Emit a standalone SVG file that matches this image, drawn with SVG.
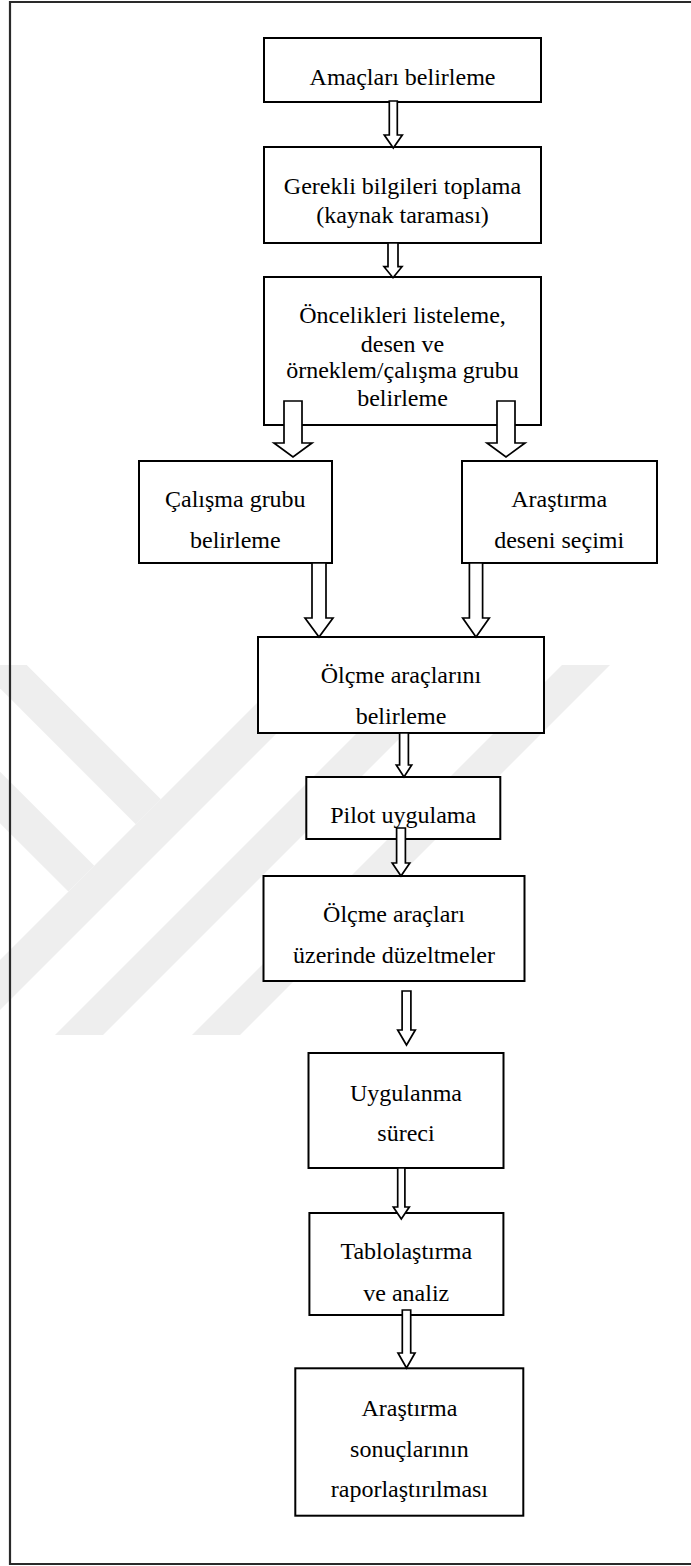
<svg xmlns="http://www.w3.org/2000/svg" width="691" height="1566" viewBox="0 0 691 1566">
<style>
.wm{fill:#eeeeee;stroke:none}
.frame{fill:none;stroke:#2a2a2a;stroke-width:2.2}
.box{fill:#ffffff;stroke:#000000;stroke-width:2}
.arr{fill:#ffffff;stroke:#000000;stroke-width:1.7;stroke-linejoin:miter}
text{font-family:"Liberation Serif","Times New Roman",serif;font-size:24px;fill:#000000;text-anchor:middle}
</style>
<rect x="0" y="0" width="691" height="1566" fill="#ffffff"/>
<g id="watermark">
<polygon class="wm" points="0,665 26.7,665 160.8,799.2 135.8,824.2 0,688.3"/>
<polygon class="wm" points="295,665 345,665 0,1010 0,960"/>
<polygon class="wm" points="0,771.7 94.2,865.8 68.4,891.6 0,823.3"/>
<polygon class="wm" points="425,665 473,665 103,1035 55,1035"/>
<polygon class="wm" points="562,665 610,665 240,1035 192,1035"/>
</g>
<path class="frame" d="M693,2 H10 V1564 H693"/>
<g id="n1"><rect class="box" x="264" y="38" width="277" height="64"/><text x="402.5" y="85">Amaçları belirleme</text></g>
<g id="n2"><rect class="box" x="264" y="147" width="277" height="96"/><text x="402.5" y="194">Gerekli bilgileri toplama</text><text x="402.5" y="222.7">(kaynak taraması)</text></g>
<g id="n3"><rect class="box" x="264" y="277" width="277" height="148"/><text x="402.5" y="323.3">Öncelikleri listeleme,</text><text x="402.5" y="351.7">desen ve</text><text x="402.5" y="378.3">örneklem/çalışma grubu</text><text x="402.5" y="406">belirleme</text></g>
<g id="n4"><rect class="box" x="139" y="461" width="193" height="102"/><text x="235.3" y="507.3">Çalışma grubu</text><text x="235.3" y="548.3">belirleme</text></g>
<g id="n5"><rect class="box" x="462" y="461" width="195" height="102"/><text x="559.2" y="507.3">Araştırma</text><text x="559.2" y="548.3">deseni seçimi</text></g>
<g id="n6"><rect class="box" x="258" y="637" width="286" height="96"/><text x="401" y="682.7">Ölçme araçlarını</text><text x="401" y="724">belirleme</text></g>
<g id="n7"><rect class="box" x="306.3" y="777" width="194" height="62"/><text x="403.2" y="822.7">Pilot uygulama</text></g>
<g id="n8"><rect class="box" x="263.5" y="876" width="261" height="105"/><text x="394" y="921.7">Ölçme araçları</text><text x="394" y="963.3">üzerinde düzeltmeler</text></g>
<g id="n9"><rect class="box" x="308.5" y="1053" width="195" height="115"/><text x="406" y="1100.7">Uygulanma</text><text x="406" y="1141">süreci</text></g>
<g id="n10"><rect class="box" x="309.4" y="1213" width="194" height="102"/><text x="406.3" y="1259.3">Tablolaştırma</text><text x="406.3" y="1300.7">ve analiz</text></g>
<g id="n11"><rect class="box" x="295.3" y="1368.3" width="228" height="147.4"/><text x="409.4" y="1416">Araştırma</text><text x="409.4" y="1456.7">sonuçlarının</text><text x="409.4" y="1497.3">raporlaştırılması</text></g>
<g id="connectors">
<polygon class="arr" points="389.3,101 389.3,135 384.3,135 393.3,148 402.3,135 397.3,135 397.3,101"/>
<polygon class="arr" points="388,243 388,266.7 384,266.7 393,277.7 402,266.7 398,266.7 398,243"/>
<polygon class="arr" points="284,401 284,443 274,443 293,457 312,443 302,443 302,401"/>
<polygon class="arr" points="497,401 497,443 487,443 506,457 525,443 515,443 515,401"/>
<polygon class="arr" points="312,563 312,618 305,618 319,637 333,618 326,618 326,563"/>
<polygon class="arr" points="469.4,563 469.4,618 462.7,618 476,637 489.3,618 482.6,618 482.6,563"/>
<polygon class="arr" points="399.6,733 399.6,765 396.3,765 404,777 411.7,765 408.4,765 408.4,733"/>
<polygon class="arr" points="396.6,828 396.6,863 392.2,863 401,876 409.8,863 405.4,863 405.4,828"/>
<polygon class="arr" points="402.1,991 402.1,1030 397.7,1030 406.5,1045 415.3,1030 410.9,1030 410.9,991"/>
<polygon class="arr" points="397.7,1168 397.7,1207 393.3,1207 401.3,1219 409.3,1207 404.9,1207 404.9,1168"/>
<polygon class="arr" points="402.3,1310 402.3,1353 398,1353 406.5,1368 415,1353 410.7,1353 410.7,1310"/>
</g>
</svg>
